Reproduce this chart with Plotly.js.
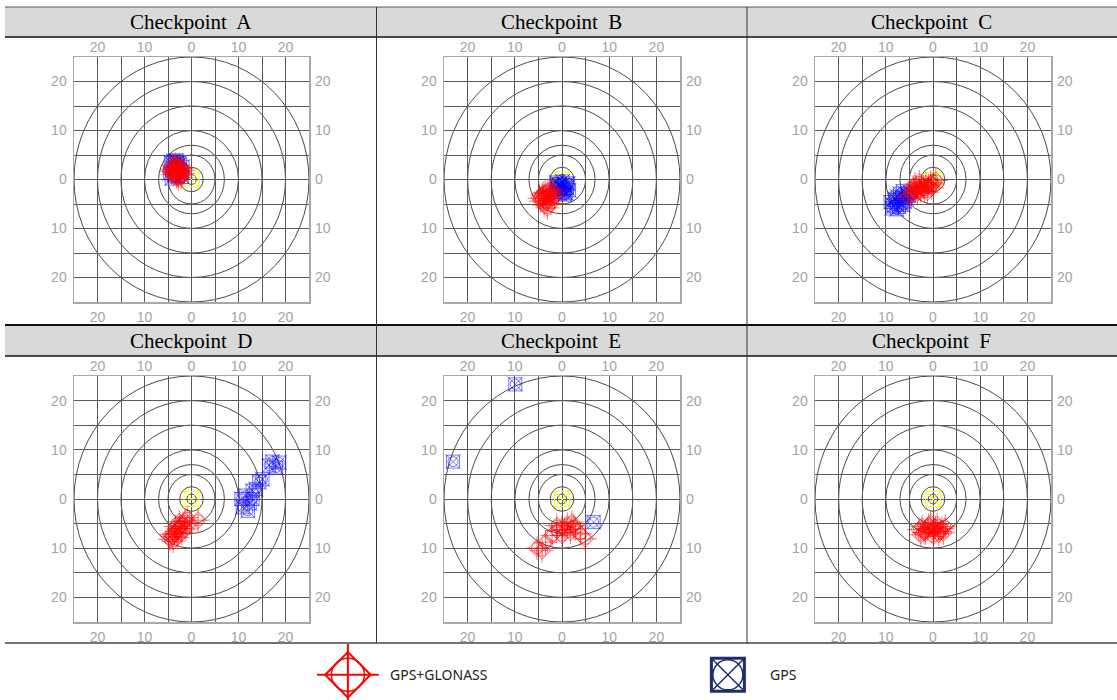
<!DOCTYPE html>
<html>
<head>
<meta charset="utf-8">
<script src="https://cdn.plot.ly/plotly-3.0.1.min.js"></script>
<style>html,body{margin:0;padding:0;background:#fff;}#chart{width:1117px;height:700px;}</style>
</head>
<body>
<div id="chart"></div>
<script>
// ---------------- DATA ----------------
const panelNames = ['Checkpoint  A','Checkpoint  B','Checkpoint  C','Checkpoint  D','Checkpoint  E','Checkpoint  F'];
const legendNames = ['GPS+GLONASS','GPS'];
const tickVals = [-20,-10,0,10,20];
const tickText = ['20','10','0','10','20'];
const ringRadii = [1, 2.5, 5, 7, 10, 15, 20, 25];
const refX = [0];
const refY = [0];

// Checkpoint A
const aGnssX = [-4.2,-3.6,-3.0,-2.4,-1.8,-3.9,-3.2,-2.7,-2.1,-4.5,-3.4,-2.9,-2.2,-3.7,-3.1,-2.5,-4.0,-1.6,-2.8,-3.3];
const aGnssY = [2.1,2.6,1.9,1.5,1.2,1.0,0.6,2.8,2.3,1.7,3.1,0.9,0.4,1.4,2.2,1.8,2.9,1.9,0.1,1.6];
const aGpsX  = [-4.4,-3.8,-3.1,-2.5,-1.9,-4.0,-3.4,-2.8,-2.2,-4.6,-3.6,-2.9,-2.0,-3.2,-4.2,-2.6];
const aGpsY  = [3.4,3.8,3.5,3.2,2.6,2.4,2.0,2.9,1.6,1.3,0.9,0.7,0.5,3.9,0.2,1.9];
// Checkpoint B
const bGnssX = [-4.8,-4.2,-3.6,-3.0,-2.4,-1.8,-4.5,-3.9,-3.3,-2.7,-2.1,-3.4,-2.8,-3.8,-2.3,-1.6,-4.0,-3.1];
const bGnssY = [-3.8,-3.2,-2.6,-2.3,-2.0,-2.4,-4.4,-3.9,-3.5,-3.1,-3.0,-4.6,-4.2,-5.2,-4.9,-3.6,-2.8,-5.8];
const bGpsX  = [-1.2,-0.6,0.1,0.7,1.3,-1.0,-0.3,0.4,1.0,-1.4,-0.5,0.3,0.9,-0.8,0.6,1.5,-0.1];
const bGpsY  = [-0.6,-0.9,-0.4,-1.1,-0.8,-1.8,-1.5,-2.0,-1.7,-2.6,-2.9,-2.5,-2.8,-1.2,-3.1,-2.2,-1.9];
// Checkpoint C
const cGnssX = [-5.2,-4.6,-4.0,-3.5,-3.0,-2.5,-2.0,-1.5,-1.0,-0.5,0.0,0.6,-4.2,-3.3,-2.6,-1.8,-1.2,-0.3,-2.9,-3.8];
const cGnssY = [-3.6,-3.0,-2.4,-1.6,-1.9,-1.2,-1.5,-0.9,-1.3,-0.6,-0.9,-0.2,-1.6,-2.8,-2.4,-2.2,-2.6,-1.7,-0.5,-0.9];
const cGpsX  = [-9.0,-8.4,-7.8,-7.2,-6.6,-6.0,-5.4,-4.8,-8.7,-7.5,-6.9,-6.3,-5.7,-8.1,-7.0,-5.1,-6.4,-7.7];
const cGpsY  = [-4.6,-5.3,-4.2,-5.6,-3.7,-4.5,-3.1,-2.6,-5.9,-3.5,-4.9,-5.2,-3.8,-3.9,-2.9,-3.3,-2.4,-6.1];
// Checkpoint D
const dGnssX = [-4.6,-4.1,-3.6,-3.2,-2.7,-2.3,-1.8,-1.4,-0.9,-3.9,-3.0,-2.1,-1.2,-4.4,-2.6,1.4,-0.4,-3.4];
const dGnssY = [-8.2,-7.6,-7.0,-6.6,-6.0,-5.5,-5.0,-4.5,-3.8,-8.6,-7.8,-6.9,-6.1,-7.2,-4.6,-4.3,-4.9,-5.6];
const dGpsX  = [10.9,11.6,13.0,13.7,15.1,16.5,18.7,18.0,12.0,10.6,13.0,14.4,12.4,17.2];
const dGpsY  = [-1.7,0.7,0.0,2.0,4.0,6.8,7.4,6.4,-2.4,0.0,1.7,3.4,-0.9,7.6];
// Checkpoint E
const eGnssX = [-5.3,-4.2,-3.5,-2.1,-1.1,0.0,1.1,2.1,2.8,3.9,4.9,0.0,-1.1,1.8,0.6,2.5];
const eGnssY = [-10.0,-10.5,-8.8,-7.4,-6.4,-5.7,-5.1,-4.7,-6.1,-7.1,-8.1,-7.4,-5.4,-6.8,-6.2,-5.5];
const eGpsX  = [-9.9,-23.1,6.7];
const eGpsY  = [23.3,7.6,-4.7];
// Checkpoint F
const fGnssX = [-3.0,-2.3,-1.6,-0.9,-0.2,0.5,1.2,1.9,2.6,-2.6,-1.2,0.1,1.5,-0.5,0.9,-1.9,2.2,0.3];
const fGnssY = [-6.2,-5.6,-6.9,-5.3,-6.5,-5.8,-7.1,-6.0,-5.6,-7.3,-6.0,-7.6,-6.6,-4.9,-5.2,-6.8,-6.9,-6.3];
const fGpsX  = [];
const fGpsY  = [];

const gnssXs = [aGnssX,bGnssX,cGnssX,dGnssX,eGnssX,fGnssX];
const gnssYs = [aGnssY,bGnssY,cGnssY,dGnssY,eGnssY,fGnssY];
const gpsXs  = [aGpsX,bGpsX,cGpsX,dGpsX,eGpsX,fGpsX];
const gpsYs  = [aGpsY,bGpsY,cGpsY,dGpsY,eGpsY,fGpsY];

// ---------------- LAYOUT HELPERS ----------------
const W = 1117, H = 700;
const px = v => v / W;
const py = v => 1 - v / H;
const colPx = [[74,309],[444,680],[815,1051]];
const rowPx = [[57,302],[376,622]];

const RED = 'rgba(255,0,0,0.62)';
const BLUE = 'rgba(0,0,255,0.6)';
const YEL = '#ffff00';
const GRID = '#5a5a5a';
const tickFont = {family:'Liberation Sans, Arial, sans-serif', size:14, color:'#a3a3a3'};

const traces = [];
const layout = {
  width: W, height: H,
  margin: {l:0, r:0, t:0, b:0},
  paper_bgcolor: '#fff', plot_bgcolor: 'rgba(0,0,0,0)',
  showlegend: false,
  shapes: [], annotations: []
};

function axName(i){ return i === 1 ? '' : String(i); }

for (let p = 0; p < 6; p++) {
  const i = p + 1, io = p + 7;
  const col = p % 3, row = Math.floor(p / 3);
  const xd = [px(colPx[col][0]), px(colPx[col][1])];
  const yd = [py(rowPx[row][1]), py(rowPx[row][0])];
  const xa = 'x' + axName(i), ya = 'y' + axName(i);
  const xt = 'x' + io, yr = 'y' + io;
  const base = {
    range: [-25, 25], fixedrange: true, zeroline: false,
    tickmode: 'array', tickvals: tickVals, ticktext: tickText,
    tickfont: tickFont, ticks: '',
    showgrid: true, gridcolor: GRID, gridwidth: 1,
    minor: {dtick: 5, tick0: 0, showgrid: true, gridcolor: GRID, gridwidth: 1},
    showline: true, linecolor: '#a8a8a8', linewidth: 1.5, mirror: true
  };
  layout['xaxis' + axName(i)] = Object.assign({}, base, {domain: xd, anchor: ya, side: 'bottom', ticklabelstandoff: 2});
  layout['yaxis' + axName(i)] = Object.assign({}, base, {domain: yd, anchor: xa, side: 'left', ticklabelstandoff: 3});
  layout['xaxis' + io] = {range: [-25,25], fixedrange: true, overlaying: xa, anchor: ya, side: 'top',
    tickmode: 'array', tickvals: tickVals, ticktext: tickText, tickfont: tickFont, ticks: '',
    ticklabelstandoff: 1, showgrid: false, zeroline: false, showline: false};
  layout['yaxis' + io] = {range: [-25,25], fixedrange: true, overlaying: ya, anchor: xa, side: 'right',
    tickmode: 'array', tickvals: tickVals, ticktext: tickText, tickfont: tickFont, ticks: '',
    ticklabelstandoff: 5, showgrid: false, zeroline: false, showline: false};

  ringRadii.forEach(r => layout.shapes.push({
    type: 'circle', xref: xa, yref: ya, x0: -r, x1: r, y0: -r, y1: r,
    line: {color: '#4a4a4a', width: 1}, layer: 'below'
  }));

  // reference point (yellow)
  traces.push({type:'scatter', mode:'markers', x: refX, y: refY, xaxis: xa, yaxis: ya, hoverinfo:'skip',
    marker:{symbol:'square-x-open', size:15, color:YEL, line:{width:1, color:YEL}}});

  // GPS drawn on (bottom x, right y); GPS+GLONASS on (top x, left y) - identical ranges
  const gps = [['x-thin-open',15,0.9],['square-open',13,0.9],['circle-open',10,0.9]];
  const gnss = [['cross-thin-open',17,0.9],['diamond-open',13,0.9],['circle-open',11,0.9]];
  gps.forEach(s => traces.push({type:'scatter', mode:'markers', x: gpsXs[p], y: gpsYs[p], xaxis: xa, yaxis: yr,
    name: legendNames[1], hoverinfo:'skip', marker:{symbol:s[0], size:s[1], color:BLUE, line:{width:s[2], color:BLUE}}}));
  gnss.forEach(s => traces.push({type:'scatter', mode:'markers', x: gnssXs[p], y: gnssYs[p], xaxis: xt, yaxis: ya,
    name: legendNames[0], hoverinfo:'skip', marker:{symbol:s[0], size:s[1], color:RED, line:{width:s[2], color:RED}}}));

  // panel header
  layout.annotations.push({text: panelNames[p], xref:'paper', yref:'paper',
    x: px(col === 0 ? 190.5 : (col === 1 ? 561 : 931.5)), y: py(row === 0 ? 22 : 340.5),
    xanchor:'center', yanchor:'middle', showarrow:false,
    font:{family:'Liberation Serif, Times New Roman, serif', size:21, color:'#000'}});
}

// ---------------- TABLE FRAME ----------------
function rect(x0,y0,x1,y1,fill){ return {type:'rect', xref:'paper', yref:'paper', x0:px(x0), x1:px(x1), y0:py(y1), y1:py(y0), fillcolor:fill, line:{width:0}, layer:'below'}; }
function hline(y,x0,x1,c,w){ return {type:'line', xref:'paper', yref:'paper', x0:px(x0), x1:px(x1), y0:py(y), y1:py(y), line:{color:c, width:w}, layer:'above'}; }
function vline(x,y0,y1,c,w){ return {type:'line', xref:'paper', yref:'paper', x0:px(x), x1:px(x), y0:py(y0), y1:py(y1), line:{color:c, width:w}, layer:'above'}; }
layout.shapes.push(rect(5,7,1117,37,'#d9d9d9'));
layout.shapes.push(rect(5,325,1117,356,'#d9d9d9'));
layout.shapes.push(hline(7,5,1117,'#555',1));
layout.shapes.push(hline(37,5,1117,'#111',1.5));
layout.shapes.push(hline(325,5,1117,'#111',2));
layout.shapes.push(hline(356,5,1117,'#111',1.5));
layout.shapes.push(hline(643,5,1117,'#444',1.5));
layout.shapes.push(vline(376.5,7,643,'#333',1));
layout.shapes.push(vline(747,7,643,'#333',1));

// ---------------- LEGEND (own axes) ----------------
layout.xaxis13 = {domain:[px(300), px(1000)], anchor:'y13', type:'category', categoryorder:'array',
  categoryarray: legendNames, range:[-0.126, 1.716], visible:false, fixedrange:true};
layout.yaxis13 = {domain:[0, 0.08], anchor:'x13', range:[-0.9, 1.1], visible:false, fixedrange:true};
const legY = [0];
[['cross-thin-open',44,2],['diamond-open',35,2],['circle-open',33,1.5]].forEach(s => traces.push({
  type:'scatter', mode:'markers', x:[legendNames[0]], y:legY, xaxis:'x13', yaxis:'y13', hoverinfo:'skip',
  marker:{symbol:s[0], size:s[1], color:'#ff0000', line:{width:s[2], color:'#ff0000'}}}));
[['x-thin-open',34,1.5],['square-open',33,3],['circle-open',30,1.5]].forEach(s => traces.push({
  type:'scatter', mode:'markers', x:[legendNames[1]], y:legY, xaxis:'x13', yaxis:'y13', hoverinfo:'skip',
  marker:{symbol:s[0], size:s[1], color:'#1b2f6b', line:{width:s[2], color:'#1b2f6b'}}}));
legendNames.forEach(n => layout.annotations.push({text:n, xref:'x13', yref:'y13', x:n, y:0,
  xanchor:'left', yanchor:'middle', xshift:40, showarrow:false,
  font:{family:'Noto Sans, DejaVu Sans, sans-serif', size:14, color:'#222'}}));

Plotly.newPlot('chart', traces, layout, {staticPlot:true, displayModeBar:false});
</script>
</body>
</html>
